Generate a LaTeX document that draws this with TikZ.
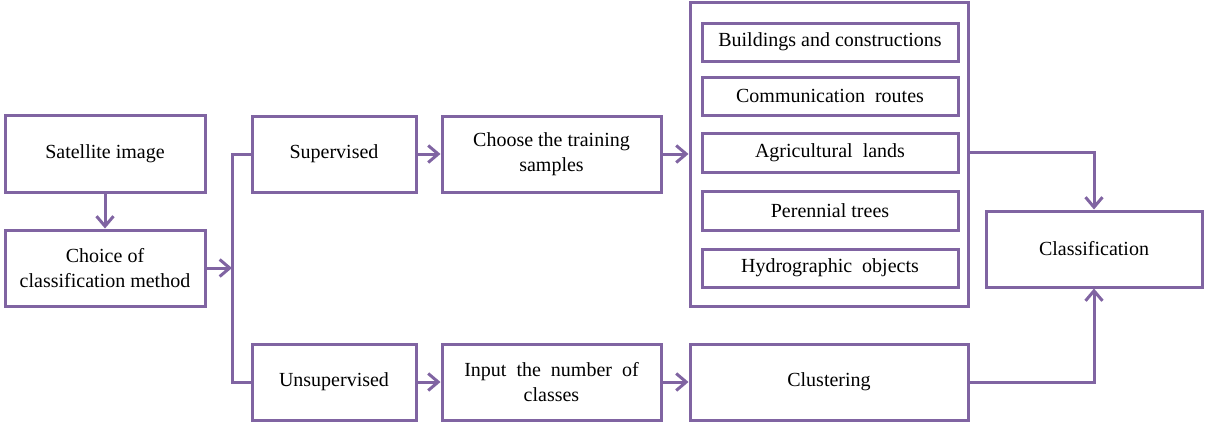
\documentclass[tikz,border=0pt]{standalone}
\usepackage{fontspec}
\setmainfont{Liberation Serif}
\usetikzlibrary{arrows.meta}
\definecolor{lpurple}{RGB}{128,100,162}
\begin{document}
\begin{tikzpicture}[x=1pt,y=-1pt,
  box/.style={draw=lpurple,line width=3pt,rectangle,align=center,inner sep=0pt,
    font=\fontsize{20}{25}\selectfont,text=black},
  arr/.style={draw=lpurple,line width=3pt,-{Straight Barb[length=10pt,width=17pt,line width=3pt]}},
  ln/.style={draw=lpurple,line width=3pt}]
\useasboundingbox (0,0) rectangle (1205,423);
% left column
\node[box,minimum width=200pt,minimum height=77pt] (sat) at (105,153.5) {Satellite image};
\node[box,minimum width=200pt,minimum height=76pt] (choice) at (105,268) {Choice of\\classification method};
% supervised branch
\node[box,minimum width=164pt,minimum height=76pt] (sup) at (334,154) {Supervised};
\node[box,minimum width=219pt,minimum height=76pt] (train) at (551.5,154) {Choose the training\\samples};
% container
\node[box,minimum width=278pt,minimum height=304pt] (cont) at (829,154) {};
\node[box,minimum width=256pt,minimum height=38pt] (bld) at (830,42) {Buildings and constructions};
\node[box,minimum width=256pt,minimum height=38pt] (com) at (830,96) {Communication\enspace routes};
\node[box,minimum width=256pt,minimum height=39pt] (agr) at (830,152.5) {Agricultural\enspace lands};
\node[box,minimum width=256pt,minimum height=39pt] (per) at (830,210.5) {Perennial trees};
\node[box,minimum width=256pt,minimum height=38pt] (hyd) at (830,268) {Hydrographic\enspace objects};
% unsupervised branch
\node[box,minimum width=164pt,minimum height=76pt] (unsup) at (334,382) {Unsupervised};
\node[box,minimum width=219pt,minimum height=76pt] (inp) at (551.5,382) {Input\enspace the\enspace number\enspace of\\classes};
\node[box,minimum width=278pt,minimum height=76pt] (clus) at (829,382) {Clustering};
% result
\node[box,minimum width=216pt,minimum height=76pt] (cls) at (1094,249) {Classification};
% connectors
\coordinate (j) at (232,268);
\draw[arr] (sat) -- (choice);
\draw[arr] (choice.east) -- (j);
\draw[ln] (sup.west) -| (j) |- (unsup.west);
\draw[arr] (sup) -- (train);
\draw[arr] (train.east) -- (cont.west |- train.east);
\draw[arr] (unsup) -- (inp);
\draw[arr] (inp) -- (clus);
\draw[arr] (cont.east |- agr.east) -| (cls.north);
\draw[arr] (clus.east) -| (cls.south);
\end{tikzpicture}
\end{document}
